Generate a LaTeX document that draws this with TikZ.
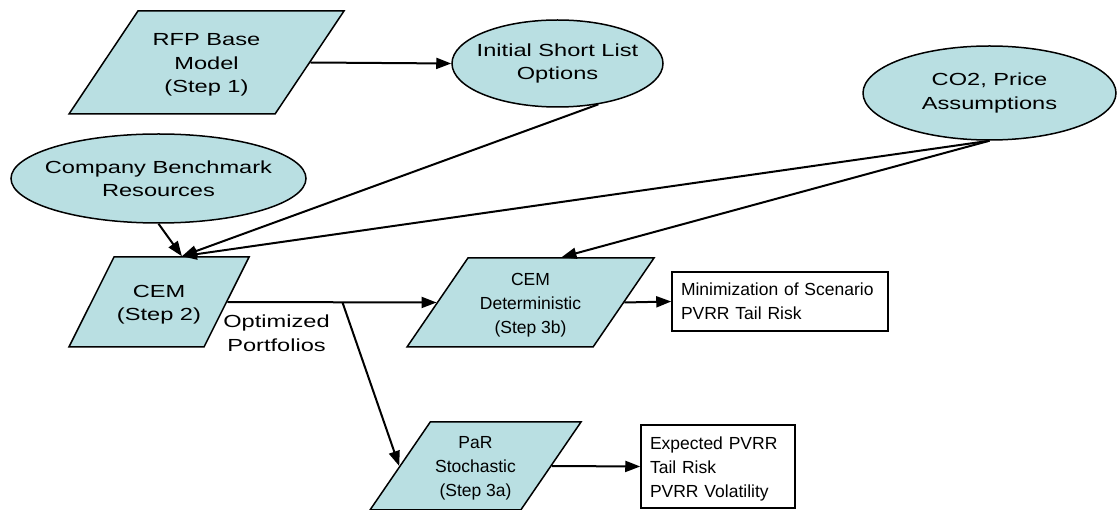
\documentclass[tikz,border=0pt]{standalone}
\usepackage{fontspec}
\setmainfont{Liberation Sans}
\newfontfamily\widefont[FakeStretch=1.35]{Liberation Sans}
\usetikzlibrary{shapes.geometric}
\usetikzlibrary{arrows.meta}
\definecolor{stepcyan}{RGB}{185,223,226}
\newcommand{\stepbody}[3]{\parbox[c][#1pt][c]{#2pt}{\centering\vspace*{5pt}#3}}
\tikzstyle{every picture}+=[x=1pt,y=-1pt]
\tikzstyle{widetext}=[font=\widefont\fontsize{17.5}{23.5}\selectfont]
\tikzstyle{plaintext}=[font=\fontsize{17.5}{24}\selectfont]
\tikzstyle{slantbox}=[trapezium, trapezium stretches body, draw, fill=stepcyan, line width=1.5pt, inner sep=0pt]
\tikzstyle{oval}=[ellipse, draw, fill=stepcyan, line width=1.5pt, inner xsep=-30pt, inner ysep=0pt, align=center, widetext]
\tikzstyle{outcome}=[draw, line width=1.5pt, inner xsep=9pt, inner ysep=0pt, align=left, plaintext]
\tikzstyle{flow}=[line width=2pt, -{Triangle[length=15pt,width=11pt]}]

\begin{document}
\begin{tikzpicture}
		\useasboundingbox (0,0) rectangle (1120,510);
		% inputs
		\node[slantbox, widetext, minimum width=275, trapezium left angle=56.2, trapezium right angle=123.8] (rfp) at (206.5,62.5) {\stepbody{103}{137}{RFP Base\\Model\\(Step 1)}};
		\node[oval, minimum width=211, minimum height=87] (init) at (557.5,63.5) {Initial Short List\\Options};
		\node[oval, minimum width=253, minimum height=94] (co2) at (989.5,93) {CO2, Price\\Assumptions};
		\node[oval, minimum width=295, minimum height=89] (bench) at (158.5,178.5) {Company Benchmark\\Resources};
		% steps
		\node[slantbox, widetext, minimum width=180, trapezium left angle=63.4, trapezium right angle=116.6] (cem) at (159,302) {\stepbody{90}{90}{CEM\\(Step 2)}};
		\node[slantbox, plaintext, minimum width=247, trapezium left angle=55.6, trapezium right angle=124.4] (cemdet) at (530.5,302.5) {\stepbody{89}{125}{CEM\\Deterministic\\(Step 3b)}};
		\node[slantbox, plaintext, minimum width=211, trapezium left angle=55.6, trapezium right angle=124.4] (par) at (475.5,466) {\stepbody{88}{89}{PaR\\Stochastic\\(Step 3a)}};
		% results
		\node[outcome, text width=198, minimum height=59] (minrisk) at (780,301.5) {Minimization of Scenario\\PVRR Tail Risk};
		\node[outcome, text width=136, minimum height=83] (expected) at (718,466.5) {\rule{0pt}{18.5pt}Expected PVRR\\Tail Risk\\PVRR Volatility};
		\node[widetext, align=center, inner sep=0pt] (optlabel) at (276.5,333) {Optimized\\Portfolios};
		% connectors
		\draw[flow] (rfp.east) -- (init.west);
		\draw[flow] (init.-45) -- (cem.top side);
		\draw[flow] (bench.south) -- (cem.top side);
		\draw[flow] (co2.south) -- (cem.top side);
		\draw[flow] (co2.south) -- (cemdet.top side);
		\draw[flow] (cem.east) -- coordinate[pos=0.55] (split) (cemdet.west);
		\draw[flow] (split) -- (par.left side);
		\draw[flow] (cemdet.east) -- (minrisk.west);
		\draw[flow] (par.east) -- (expected.west);
\end{tikzpicture}
\end{document}
